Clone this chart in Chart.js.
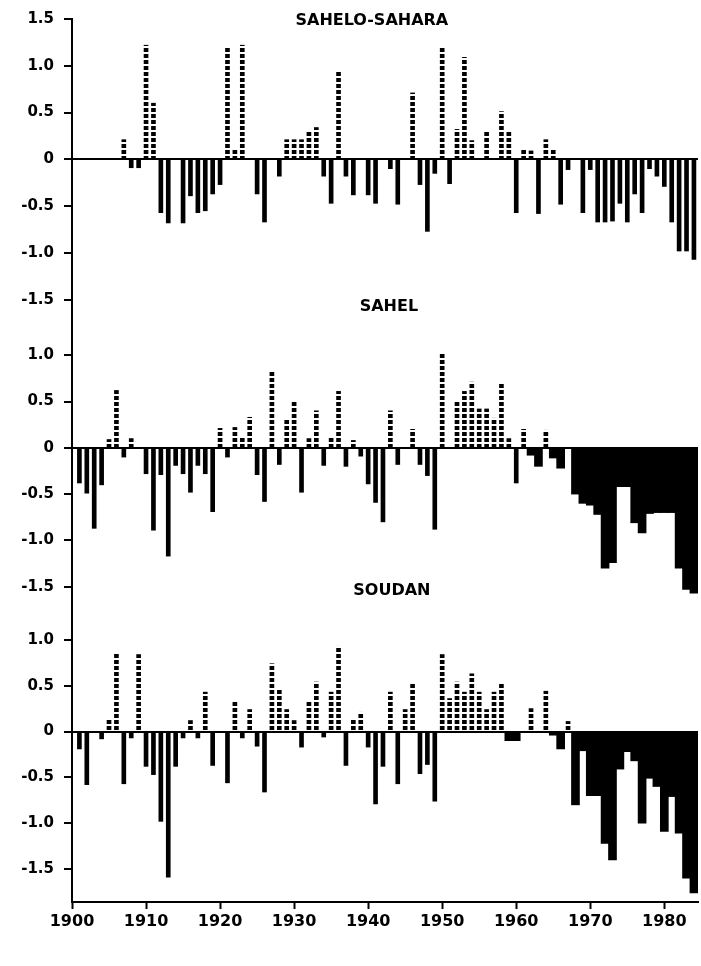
<!DOCTYPE html>
<html>
<head>
<meta charset="utf-8">
<script src="https://cdn.jsdelivr.net/npm/chart.js@4.4.1/dist/chart.umd.min.js"></script>
<style>
html, body { margin: 0; padding: 0; background: #fff; }
canvas { display: block; }
</style>
</head>
<body>
<canvas id="myChart" width="701" height="966"></canvas>
<script>
// years shown on the chart, 1901 - 1984
var years = [];
for (var yr = 1901; yr <= 1984; yr++) years.push(yr);

// rainfall anomaly per year
var sahelSahara = [
    0, 0, 0, 0, 0, 0, 0.21, -0.09, -0.09, 1.22,
    0.6, -0.57, -0.68, 0, -0.68, -0.39, -0.57, -0.55, -0.37, -0.27,
    1.2, 0.11, 1.22, 0, -0.37, -0.67, 0, -0.18, 0.21, 0.21,
    0.21, 0.3, 0.34, -0.18, -0.47, 0.94, -0.18, -0.38, 0, -0.38,
    -0.47, 0, -0.1, -0.48, 0, 0.71, -0.27, -0.77, -0.15, 1.2,
    -0.26, 0.32, 1.09, 0.2, 0, 0.29, 0, 0.51, 0.3, -0.57,
    0.1, 0.09, -0.58, 0.21, 0.1, -0.48, -0.11, 0, -0.57, -0.11,
    -0.67, -0.67, -0.66, -0.47, -0.67, -0.37, -0.57, -0.1, -0.18, -0.29,
    -0.67, -0.98, -0.98, -1.07
];
var sahel = [
    -0.38, -0.49, -0.87, -0.4, 0.09, 0.62, -0.1, 0.1, 0, -0.28,
    -0.89, -0.29, -1.17, -0.19, -0.28, -0.48, -0.19, -0.28, -0.69, 0.21,
    -0.1, 0.22, 0.11, 0.33, -0.29, -0.58, 0.82, -0.18, 0.31, 0.5,
    -0.48, 0.1, 0.4, -0.19, 0.11, 0.61, -0.2, 0.08, -0.09, -0.39,
    -0.59, -0.8, 0.4, -0.18, 0, 0.2, -0.18, -0.3, -0.88, 1.02,
    0, 0.51, 0.61, 0.71, 0.42, 0.42, 0.32, 0.69, 0.1, -0.38,
    0.2, -0.08, -0.2, 0.19, -0.11, -0.22, 0, -0.5, -0.6, -0.62,
    -0.72, -1.3, -1.24, -0.42, -0.42, -0.81, -0.92, -0.71, -0.7, -0.7,
    -0.7, -1.3, -1.53, -1.57
];
var soudan = [
    -0.19, -0.58, 0, -0.08, 0.13, 0.85, -0.57, -0.07, 0.84, -0.38,
    -0.47, -0.98, -1.59, -0.38, -0.07, 0.12, -0.07, 0.43, -0.37, 0,
    -0.56, 0.33, -0.07, 0.24, -0.16, -0.66, 0.74, 0.45, 0.24, 0.12,
    -0.17, 0.33, 0.54, -0.06, 0.43, 0.93, -0.37, 0.13, 0.21, -0.17,
    -0.79, -0.38, 0.43, -0.57, 0.24, 0.53, -0.46, -0.36, -0.76, 0.84,
    0.36, 0.54, 0.43, 0.63, 0.43, 0.24, 0.43, 0.53, -0.1, -0.1,
    0, 0.25, 0, 0.44, -0.04, -0.19, 0.11, -0.8, -0.21, -0.7,
    -0.7, -1.22, -1.4, -0.41, -0.22, -0.32, -1.0, -0.51, -0.6, -1.09,
    -0.71, -1.11, -1.6, -1.76
];

var regionNames = ['SAHELO-SAHARA', 'SAHEL', 'SOUDAN'];
var xTicks = [1900, 1910, 1920, 1930, 1940, 1950, 1960, 1970, 1980];
var topTicks = [1.5, 1.0, 0.5, 0, -0.5, -1.0, -1.5];
var panelTicks = [1.0, 0.5, 0, -0.5, -1.0, -1.5];

// from these years on the dry bars touch each other
var sahelBlockFrom = 1962;
var soudanBlockFrom = 1959;

var FONT = '"DejaVu Sans", sans-serif';
Chart.defaults.font.family = FONT;
Chart.defaults.color = '#000';

var ctx = document.getElementById('myChart').getContext('2d');

// dotted fill for the wet years
var tile = document.createElement('canvas');
tile.width = 1;
tile.height = 6;
var tctx = tile.getContext('2d');
tctx.fillStyle = '#000';
tctx.fillRect(0, 0, 1, 4);
var dots = ctx.createPattern(tile, 'repeat');

function pick(values, test) {
    var out = [];
    for (var i = 0; i < years.length; i++) {
        if (values[i] !== 0 && test(values[i], years[i])) {
            out.push({ x: years[i], y: values[i] });
        }
    }
    return out;
}

function wet(values, axis) {
    return { data: pick(values, function (v) { return v > 0; }), yAxisID: axis,
        backgroundColor: dots, barThickness: 4 };
}
function dry(values, axis, from) {
    return { data: pick(values, function (v, y) { return v < 0 && y < from; }), yAxisID: axis,
        backgroundColor: '#000', barThickness: 4 };
}
function dryBlock(values, axis, from) {
    return { data: pick(values, function (v, y) { return v < 0 && y >= from; }), yAxisID: axis,
        backgroundColor: '#000', barThickness: 8 };
}

function yAxis(min, max, ticks, size, order) {
    return {
        type: 'linear',
        position: 'left',
        stack: 'panels',
        stackWeight: size,
        weight: order,
        min: min,
        max: max,
        afterBuildTicks: function (s) {
            s.ticks = ticks.map(function (v) { return { value: v }; });
        },
        afterFit: function (s) { s.width = 72; },
        ticks: {
            autoSkip: false,
            padding: 10,
            color: '#000',
            font: { size: 15, weight: 'bold' },
            callback: function (v) { return v === 0 ? '0' : v.toFixed(1); }
        },
        grid: {
            drawOnChartArea: true,
            drawTicks: true,
            tickLength: 8,
            tickWidth: 2,
            tickColor: '#000',
            lineWidth: 2,
            color: function (c) {
                return c.tick && c.tick.value === 0 ? '#000' : 'rgba(0,0,0,0)';
            }
        },
        border: { display: true, color: '#000', width: 2 }
    };
}

var panelTitles = {
    id: 'panelTitles',
    afterDraw: function (chart) {
        var c = chart.ctx;
        var x = chart.scales.x;
        var spots = [['ySS', 1940.5, 2], ['ySahel', 1942.8, -2], ['ySoudan', 1943.2, -3]];
        c.save();
        c.font = 'bold 16px ' + FONT;
        c.fillStyle = '#000';
        c.textAlign = 'center';
        c.textBaseline = 'middle';
        for (var i = 0; i < spots.length; i++) {
            var s = chart.scales[spots[i][0]];
            c.fillText(regionNames[i], x.getPixelForValue(spots[i][1]), s.top + spots[i][2]);
        }
        c.restore();
    }
};

var myChart = new Chart(ctx, {
    type: 'bar',
    data: {
        datasets: [
            wet(sahelSahara, 'ySS'),
            dry(sahelSahara, 'ySS', 9999),
            wet(sahel, 'ySahel'),
            dry(sahel, 'ySahel', sahelBlockFrom),
            dryBlock(sahel, 'ySahel', sahelBlockFrom),
            wet(soudan, 'ySoudan'),
            dry(soudan, 'ySoudan', soudanBlockFrom),
            dryBlock(soudan, 'ySoudan', soudanBlockFrom)
        ]
    },
    options: {
        responsive: false,
        animation: false,
        devicePixelRatio: 1,
        layout: { padding: { top: 16, right: 3, bottom: 34, left: 0 } },
        datasets: { bar: { grouped: false } },
        plugins: {
            legend: { display: false },
            tooltip: { enabled: false }
        },
        scales: {
            x: {
                type: 'linear',
                position: 'bottom',
                min: 1900,
                max: 1984.55,
                offset: false,
                afterBuildTicks: function (s) {
                    s.ticks = xTicks.map(function (v) { return { value: v }; });
                },
                afterFit: function (s) { s.height = 30; },
                ticks: {
                    autoSkip: false,
                    maxRotation: 0,
                    padding: 3,
                    color: '#000',
                    font: { size: 16, weight: 'bold' },
                    callback: function (v) { return String(v); }
                },
                grid: {
                    offset: false,
                    drawOnChartArea: false,
                    drawTicks: true,
                    tickLength: 7,
                    tickWidth: 2,
                    tickColor: '#000'
                },
                border: { display: true, color: '#000', width: 2 }
            },
            ySS: yAxis(-1.6, 1.5, topTicks, 291, 3),
            ySahel: yAxis(-1.58, 1.5, panelTicks, 286, 2),
            ySoudan: yAxis(-1.86, 1.5, panelTicks, 309, 1)
        }
    },
    plugins: [panelTitles]
});
</script>
</body>
</html>
